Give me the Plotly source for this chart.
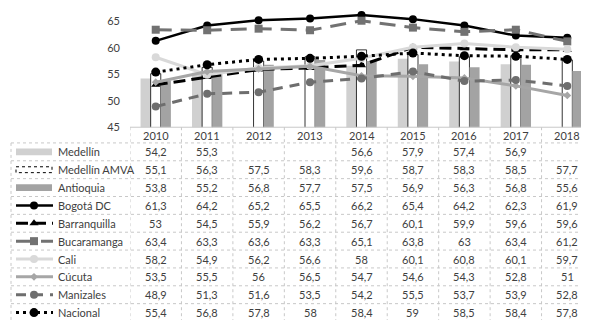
import plotly.graph_objects as go

# ---------------- data ----------------
years = ["2010", "2011", "2012", "2013", "2014", "2015", "2016", "2017", "2018"]
medellin = [54.2, 55.3, None, None, 56.6, 57.9, 57.4, 56.9, None]
medellin_amva = [55.1, 56.3, 57.5, 58.3, 59.6, 58.7, 58.3, 58.5, 57.7]
antioquia = [53.8, 55.2, 56.8, 57.7, 57.5, 56.9, 56.3, 56.8, 55.6]
bogota = [61.3, 64.2, 65.2, 65.5, 66.2, 65.4, 64.2, 62.3, 61.9]
barranquilla = [53, 54.5, 55.9, 56.2, 56.7, 60.1, 59.9, 59.6, 59.6]
bucaramanga = [63.4, 63.3, 63.6, 63.3, 65.1, 63.8, 63, 63.4, 61.2]
cali = [58.2, 54.9, 56.2, 56.6, 58, 60.1, 60.8, 60.1, 59.7]
cucuta = [53.5, 55.5, 56, 56.5, 54.7, 54.6, 54.3, 52.8, 51]
manizales = [48.9, 51.3, 51.6, 53.5, 54.2, 55.5, 53.7, 53.9, 52.8]
nacional = [55.4, 56.8, 57.8, 58, 58.4, 59, 58.5, 58.4, 57.8]
y_ticks = [45, 50, 55, 60, 65]

W, H = 589, 320
TXT = "#404040"
FONT = "Lato"
GRID = "#c8c8c8"

def px(x):
    return x / W

def py(y):
    return 1 - y / H

# geometry (pixels)
PLOT_L, PLOT_R = 122, 585
AX_Y = 121.5          # pixel of value 45
PX_PER_UNIT = 5.4
HDR_TOP, HDR_BOT = 121.5, 137.5
ROW_H = 18.2
TBL_L = 3
KEY_X0, KEY_X1, KEY_MID = 8, 45, 26
NAME_X = 48

bars = [
    ("Medellín", medellin, dict(color="#d0d0d0", line=dict(width=0))),
    ("Medellín AMVA", medellin_amva, dict(color="rgba(255,255,255,0)", line=dict(color="#000000", width=0.8))),
    ("Antioquia", antioquia, dict(color="#a3a3a3", line=dict(width=0))),
]
lines = [
    ("Bogotá DC", bogota, dict(color="#000000", width=2.5, dash="solid"), dict(symbol="circle", size=8, color="#000000")),
    ("Barranquilla", barranquilla, dict(color="#000000", width=3, dash="12px,6px"), dict(symbol="triangle-up", size=8, color="#000000")),
    ("Bucaramanga", bucaramanga, dict(color="#727272", width=3, dash="16px,9px"), dict(symbol="square", size=8, color="#727272")),
    ("Cali", cali, dict(color="#d9d9d9", width=3, dash="solid"), dict(symbol="circle", size=8, color="#d9d9d9")),
    ("Cúcuta", cucuta, dict(color="#a6a6a6", width=3, dash="solid"), dict(symbol="diamond", size=6, color="#a6a6a6")),
    ("Manizales", manizales, dict(color="#6e6e6e", width=3, dash="10px,7px"), dict(symbol="circle", size=8, color="#6e6e6e")),
    ("Nacional", nacional, dict(color="#000000", width=3, dash="3px,4px"), dict(symbol="circle", size=9, color="#000000")),
]

fig = go.Figure()

for name, vals, mk in bars:
    fig.add_trace(go.Bar(x=years, y=vals, name=name, marker=mk, xaxis="x", yaxis="y"))

for name, vals, ln, mk in lines:
    fig.add_trace(go.Scatter(x=years, y=vals, name=name, mode="lines+markers",
                             line=ln, marker=mk, xaxis="x", yaxis="y", cliponaxis=False))

# ---------------- table ----------------
shapes = []
annotations = []

def fmt(v):
    if v is None:
        return ""
    return f"{v:g}".replace(".", ",")

def txt(x, y, text, xref="paper", xanchor="center"):
    return dict(x=x, y=y, xref=xref, yref="paper", xanchor=xanchor, yanchor="middle",
                text=text, showarrow=False, font=dict(family=FONT, size=11, color=TXT))

n_rows = len(bars) + len(lines)
tbl_bot = HDR_BOT + n_rows * ROW_H

# header years (category index positions)
for i, yr in enumerate(years):
    annotations.append(txt(i, py((HDR_TOP + HDR_BOT) / 2), yr, xref="x"))

# horizontal grid lines
shapes.append(dict(type="line", xref="paper", yref="paper", x0=px(PLOT_L), x1=px(PLOT_R),
                   y0=py(HDR_TOP), y1=py(HDR_TOP), line=dict(color=GRID, width=1)))
for k in range(n_rows + 1):
    yy = HDR_BOT + k * ROW_H
    shapes.append(dict(type="line", xref="paper", yref="paper", x0=px(TBL_L), x1=px(PLOT_R),
                       y0=py(yy), y1=py(yy), line=dict(color=GRID, width=1, dash="dot")))
# vertical grid lines
shapes.append(dict(type="line", xref="paper", yref="paper", x0=px(TBL_L), x1=px(TBL_L),
                   y0=py(HDR_BOT), y1=py(tbl_bot), line=dict(color=GRID, width=1, dash="dot")))
for i in range(len(years) + 1):
    shapes.append(dict(type="line", xref="x", yref="paper", x0=i - 0.5, x1=i - 0.5,
                       y0=py(HDR_TOP), y1=py(tbl_bot), line=dict(color=GRID, width=1, dash="dot")))

all_series = [(n, v) for n, v, _ in bars] + [(n, v) for n, v, _, _ in lines]
for r, (name, vals) in enumerate(all_series):
    yc = HDR_BOT + (r + 0.5) * ROW_H
    annotations.append(txt(px(NAME_X), py(yc), name, xanchor="left"))
    for i, v in enumerate(vals):
        if v is not None:
            annotations.append(txt(i, py(yc), fmt(v), xref="x"))

# legend keys: bars as rectangles
for r, (name, vals, mk) in enumerate(bars):
    yc = HDR_BOT + (r + 0.5) * ROW_H
    if r == 1:
        shapes.append(dict(type="rect", xref="paper", yref="paper", x0=px(KEY_X0), x1=px(KEY_X1 - 1),
                           y0=py(yc - 3), y1=py(yc + 3), fillcolor="#ffffff",
                           line=dict(color="#000000", width=1, dash="dot")))
    else:
        shapes.append(dict(type="rect", xref="paper", yref="paper", x0=px(KEY_X0), x1=px(KEY_X1 - 1),
                           y0=py(yc - 3.5), y1=py(yc + 3.5), fillcolor=mk["color"], line=dict(width=0)))

# legend keys: lines drawn on a pixel overlay axis
for j, (name, vals, ln, mk) in enumerate(lines):
    yc = HDR_BOT + (len(bars) + j + 0.5) * ROW_H
    fig.add_trace(go.Scatter(x=[KEY_X0, KEY_X1], y=[yc, yc], mode="lines", line=ln,
                             xaxis="x2", yaxis="y2", showlegend=False, hoverinfo="skip"))
    fig.add_trace(go.Scatter(x=[KEY_MID], y=[yc], mode="markers", marker=mk,
                             xaxis="x2", yaxis="y2", showlegend=False, hoverinfo="skip"))

fig.update_layout(
    width=W, height=H,
    margin=dict(l=0, r=0, t=0, b=0),
    paper_bgcolor="#ffffff", plot_bgcolor="rgba(0,0,0,0)",
    showlegend=False,
    barmode="group", bargap=0.41, bargroupgap=0,
    font=dict(family=FONT, size=11, color=TXT),
    xaxis=dict(type="category", domain=[px(PLOT_L), px(PLOT_R)], range=[-0.5, 8.5],
               showticklabels=False, showgrid=False, zeroline=False, showline=False, ticks=""),
    yaxis=dict(domain=[py(AX_Y), 1], range=[45, 45 + AX_Y / PX_PER_UNIT], tickvals=y_ticks,
               showgrid=False, zeroline=False, showline=False, ticks="", ticklabelstandoff=9,
               tickfont=dict(family=FONT, size=11, color=TXT)),
    xaxis2=dict(domain=[0, 1], range=[0, W], visible=False, anchor="y2"),
    yaxis2=dict(domain=[0, 1], range=[H, 0], visible=False, anchor="x2"),
    shapes=shapes,
    annotations=annotations,
)

fig.write_html("out.html")
